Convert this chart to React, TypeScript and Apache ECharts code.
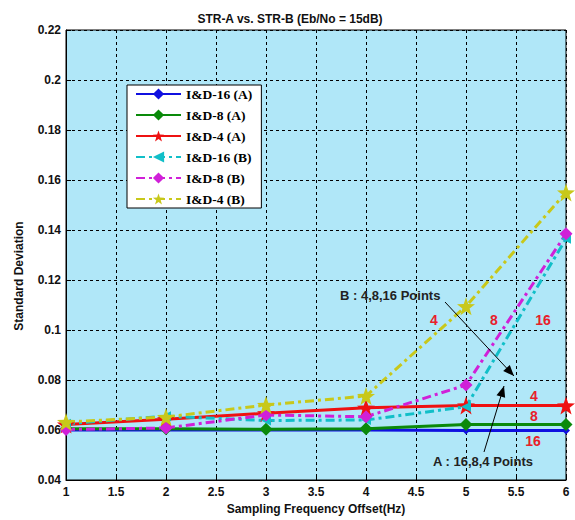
import React, { useEffect, useRef } from "react";
import * as echarts from "echarts";

const xValues = [1, 2, 3, 4, 5, 6];
const seriesNames = ["I&D-16 (A)", "I&D-8 (A)", "I&D-4 (A)", "I&D-16 (B)", "I&D-8 (B)", "I&D-4 (B)"];
const a16 = [0.060, 0.060, 0.060, 0.060, 0.0598, 0.0598];
const a8 = [0.0605, 0.0605, 0.0603, 0.0605, 0.0622, 0.0622];
const a4 = [0.0622, 0.0643, 0.0667, 0.0689, 0.0698, 0.0698];
const b16 = [0.0625, 0.0655, 0.0638, 0.064, 0.0693, 0.1365];
const b8 = [0.0602, 0.0608, 0.066, 0.0653, 0.078, 0.1385];
const b4 = [0.0632, 0.0652, 0.070, 0.0736, 0.1095, 0.155];
const xTicks = { min: 1, max: 6, interval: 0.5 };
const yTicks = { min: 0.04, max: 0.22, interval: 0.02 };

const STAR = "path://M0,-10 L2.35,-3.24 L9.51,-3.09 L3.8,1.24 L5.88,8.09 L0,4 L-5.88,8.09 L-3.8,1.24 L-9.51,-3.09 L-2.35,-3.24 Z";
const LEFT_TRI = "path://M-10,0 L8,-8 L8,8 Z";
const DASHDOT = [9, 4, 3, 4];

export default function App() {
  const ref = useRef<HTMLDivElement>(null);
  useEffect(() => {
    const chart = echarts.init(ref.current!, undefined, { renderer: "svg" });
    const mk = (name: string, vals: number[], color: string, symbol: string, size: number, dashed: boolean) => ({
      name,
      type: "line",
      data: xValues.map((x, i) => [x, vals[i]]),
      symbol,
      symbolSize: size,
      showSymbol: true,
      color,
      itemStyle: { color, borderWidth: 0 },
      lineStyle: { color, width: 3, type: dashed ? DASHDOT : "solid" },
      emphasis: { disabled: true },
    });
    const axisFont = { fontFamily: "Liberation Sans, Arial, sans-serif", fontWeight: "bold", fontSize: 12, color: "#111" };
    const arrowHead = (x: number, y: number, ang: number) => {
      const L = 11, W = 4.5;
      const bx = x - L * Math.cos(ang), by = y - L * Math.sin(ang);
      const px = -Math.sin(ang) * W, py = Math.cos(ang) * W;
      return { type: "polygon", shape: { points: [[x, y], [bx + px, by + py], [bx - px, by - py]] }, style: { fill: "#000" }, z: 100 };
    };
    const redText = (t: string, x: number, y: number) => ({
      type: "text", x, y, z: 100,
      style: { text: t, fill: "#e8202a", font: "bold 14px Liberation Sans, Arial, sans-serif", align: "center", verticalAlign: "middle" },
    });
    const b1 = [445, 302], b2 = [514, 376];
    const a1 = [484, 452], a2 = [504, 386];
    chart.setOption({
      animation: false,
      backgroundColor: "#ffffff",
      title: {
        text: "STR-A vs. STR-B (Eb/No = 15dB)",
        left: 285, top: 8, textAlign: "center",
        textStyle: { fontFamily: "Liberation Sans, Arial, sans-serif", fontWeight: "bold", fontSize: 12, color: "#111" },
      },
      grid: { left: 66, right: 9, top: 30, bottom: 39, show: true, backgroundColor: "#b0e7f8", borderColor: "#000", borderWidth: 1, containLabel: false },
      legend: {
        orient: "vertical", left: 127, top: 85,
        backgroundColor: "#fff", borderColor: "#000", borderWidth: 1,
        padding: [2, 9, 2, 8], itemWidth: 45, itemHeight: 14, itemGap: 7,
        textStyle: { fontFamily: "Liberation Serif, Times New Roman, serif", fontWeight: "bold", fontSize: 13.5, color: "#000" },
        data: seriesNames,
      },
      xAxis: {
        type: "value", ...xTicks,
        name: "Sampling Frequency Offset(Hz)", nameLocation: "middle", nameGap: 23,
        nameTextStyle: axisFont,
        axisLine: { show: true, lineStyle: { color: "#000" } },
        axisTick: { show: true, inside: true, length: 5, lineStyle: { color: "#000" } },
        axisLabel: { ...axisFont, margin: 6 },
        splitLine: { show: true, lineStyle: { color: "#000", type: [3, 3], width: 1 } },
      },
      yAxis: {
        type: "value", ...yTicks,
        axisLine: { show: true, lineStyle: { color: "#000" } },
        axisTick: { show: true, inside: true, length: 5, lineStyle: { color: "#000" } },
        axisLabel: { ...axisFont, margin: 5, formatter: (v: number) => String(Number(v.toFixed(2))) },
        splitLine: { show: true, lineStyle: { color: "#000", type: [3, 3], width: 1 } },
      },
      series: [
        mk(seriesNames[0], a16, "#1010e0", "diamond", 8, false),
        mk(seriesNames[1], a8, "#0a8a0a", "diamond", 13, false),
        mk(seriesNames[2], a4, "#ee1111", STAR, 18, false),
        mk(seriesNames[3], b16, "#11bfc8", LEFT_TRI, 10, true),
        mk(seriesNames[4], b8, "#d020d8", "diamond", 13, true),
        mk(seriesNames[5], b4, "#c8c81a", STAR, 18, true),
      ],
      graphic: [
        { type: "text", x: 19, y: 276, rotation: Math.PI / 2, z: 100, style: { text: "Standard Deviation", fill: "#111", font: "bold 12px Liberation Sans, Arial, sans-serif", align: "center", verticalAlign: "middle" } },
        { type: "text", x: 340, y: 295, z: 100, style: { text: "B : 4,8,16 Points", fill: "#222", font: "bold 13px Liberation Sans, Arial, sans-serif", verticalAlign: "middle" } },
        { type: "line", z: 100, shape: { x1: b1[0], y1: b1[1], x2: b2[0], y2: b2[1] }, style: { stroke: "#000", lineWidth: 1 } },
        arrowHead(b2[0], b2[1], Math.atan2(b2[1] - b1[1], b2[0] - b1[0])),
        { type: "text", x: 433, y: 461, z: 100, style: { text: "A : 16,8,4 Points", fill: "#222", font: "bold 13px Liberation Sans, Arial, sans-serif", verticalAlign: "middle" } },
        { type: "line", z: 100, shape: { x1: a1[0], y1: a1[1], x2: a2[0], y2: a2[1] }, style: { stroke: "#000", lineWidth: 1 } },
        arrowHead(a2[0], a2[1], Math.atan2(a2[1] - a1[1], a2[0] - a1[0])),
        redText("4", 434, 320),
        redText("8", 494, 320),
        redText("16", 543, 320),
        redText("4", 534, 396),
        redText("8", 534, 416),
        redText("16", 533, 441),
      ],
    });
    return () => chart.dispose();
  }, []);
  return <div ref={ref} style={{ position: "fixed", left: 0, top: 0, width: 575, height: 520 }} />;
}
